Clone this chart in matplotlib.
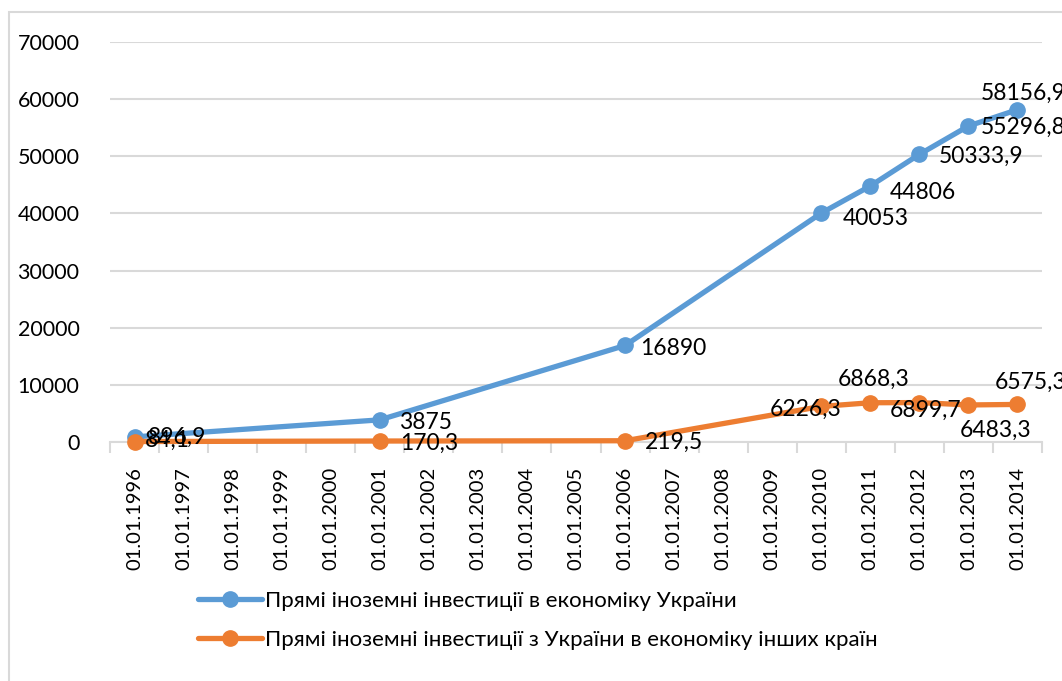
import matplotlib.pyplot as plt
from matplotlib.patches import Rectangle

# дані
years = list(range(1996, 2015))
tick_labels = [f'01.01.{y}' for y in years]

point_years = [1996, 2001, 2006, 2010, 2011, 2012, 2013, 2014]
fdi_in = [896.9, 3875, 16890, 40053, 44806, 50333.9, 55296.8, 58156.9]
fdi_out = [84.1, 170.3, 219.5, 6226.3, 6868.3, 6899.7, 6483.3, 6575.3]

name_in = 'Прямі іноземні інвестиції в економіку України'
name_out = 'Прямі іноземні інвестиції з України в економіку інших країн'

# зсуви підписів (пікселі)
off_in = [(43, 0), (46, -3), (48, -3), (54, -5), (53, -7), (62, -2), (55, -1), (6, 16)]
off_out = [(33, 1), (49, -2), (49, -2), (-16, -3), (3, 23), (6, -8), (27, -25), (13, 22)]

blue = '#5B9BD5'
orange = '#ED7D31'
grid_c = '#D9D9D9'
font = ['Lato', 'Open Sans', 'DejaVu Sans']
plt.rcParams['font.family'] = font

fig = plt.figure(figsize=(10.62, 6.81), dpi=100)
ax = fig.add_axes([110 / 1062, 1 - 442 / 681, 932 / 1062, 400 / 681])

fig.patches.append(Rectangle((9 / 1062, -0.1), 1.2, 1 - 12 / 681 + 0.1,
                             transform=fig.transFigure, fill=False,
                             edgecolor=grid_c, lw=1.5))

xi = [years.index(y) for y in point_years]


def fmt(v):
    s = f'{v:g}'
    return s.replace('.', ',')


for vals, col, name, offs in [(fdi_in, blue, name_in, off_in),
                              (fdi_out, orange, name_out, off_out)]:
    ax.plot(xi, vals, color=col, lw=3.8, marker='o', markersize=11,
            label=name, solid_capstyle='round', clip_on=False, zorder=3)
    for x, v, (dx, dy) in zip(xi, vals, offs):
        ax.annotate(fmt(v), (x, v), xytext=(dx, dy), textcoords='offset pixels',
                    ha='center', va='center', fontsize=16.5, color='#000000',
                    annotation_clip=False, zorder=5)

ax.set_xlim(-0.5, 18.5)
ax.set_ylim(0, 70000)
ax.set_yticks(range(0, 70001, 10000))
ax.yaxis.grid(True, color=grid_c, lw=1.5)
ax.set_axisbelow(True)
for s in ['top', 'right', 'left']:
    ax.spines[s].set_visible(False)
ax.spines['bottom'].set_color(grid_c)
ax.spines['bottom'].set_linewidth(1.5)

ax.set_xticks(range(len(years)))
ax.set_xticklabels(tick_labels, rotation=90, fontsize=14.5)
ax.set_xticks([i - 0.5 for i in range(len(years) + 1)], minor=True)
ax.tick_params(axis='x', which='major', length=0, pad=18)
ax.tick_params(axis='x', which='minor', length=8, width=1.5, color=grid_c)
ax.tick_params(axis='y', length=0, labelsize=15.5, pad=22)

fig.legend(loc='upper left', bbox_to_anchor=(198 / 1062, 1 - 591 / 681),
           frameon=False, fontsize=16, handlelength=2.9, handletextpad=0.1,
           labelspacing=0.85, borderaxespad=0, borderpad=0)

fig.savefig('out.png', dpi=100)
